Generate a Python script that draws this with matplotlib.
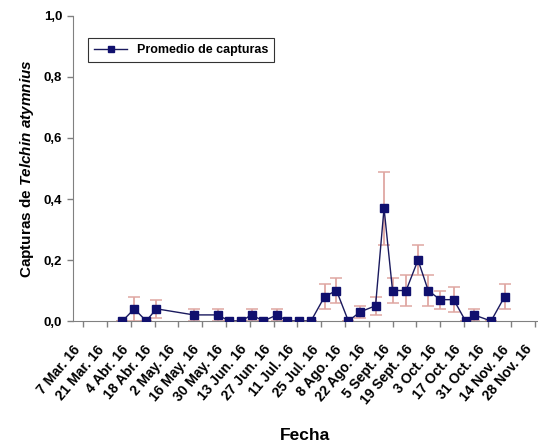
import matplotlib
matplotlib.use("Agg")
import matplotlib.pyplot as plt
import matplotlib.dates as mdates
from datetime import datetime

plt.rcParams['font.family'] = ['Liberation Sans', 'DejaVu Sans']
plt.rcParams['font.weight'] = 'bold'
plt.rcParams['mathtext.fontset'] = 'custom'
plt.rcParams['mathtext.it'] = 'Liberation Sans:italic:bold'
plt.rcParams['mathtext.rm'] = 'Liberation Sans:bold'

# sampling dates (2016) and mean captures with error bars
fechas = ["2016-03-30", "2016-04-06", "2016-04-13", "2016-04-19", "2016-05-11",
          "2016-05-25", "2016-06-01", "2016-06-08", "2016-06-14", "2016-06-21",
          "2016-06-29", "2016-07-05", "2016-07-12", "2016-07-19", "2016-07-27",
          "2016-08-03", "2016-08-10", "2016-08-17", "2016-08-26", "2016-08-31",
          "2016-09-05", "2016-09-13", "2016-09-20", "2016-09-26", "2016-10-03",
          "2016-10-11", "2016-10-18", "2016-10-23", "2016-11-02", "2016-11-10"]
promedio = [0.0, 0.04, 0.0, 0.04, 0.02,
            0.02, 0.0, 0.0, 0.02, 0.0,
            0.02, 0.0, 0.0, 0.0, 0.08,
            0.10, 0.0, 0.03, 0.05, 0.37,
            0.10, 0.10, 0.20, 0.10, 0.07,
            0.07, 0.0, 0.02, 0.0, 0.08]
error = [0.0, 0.04, 0.0, 0.03, 0.02,
         0.02, 0.0, 0.0, 0.02, 0.0,
         0.02, 0.0, 0.0, 0.0, 0.04,
         0.04, 0.0, 0.02, 0.03, 0.12,
         0.04, 0.05, 0.05, 0.05, 0.03,
         0.04, 0.0, 0.02, 0.0, 0.04]

tick_fechas = ["2016-03-07", "2016-03-21", "2016-04-04", "2016-04-18", "2016-05-02",
               "2016-05-16", "2016-05-30", "2016-06-13", "2016-06-27", "2016-07-11",
               "2016-07-25", "2016-08-08", "2016-08-22", "2016-09-05", "2016-09-19",
               "2016-10-03", "2016-10-17", "2016-10-31", "2016-11-14", "2016-11-28"]
tick_labels = ["7 Mar. 16", "21 Mar. 16", "4 Abr. 16", "18 Abr. 16", "2 May. 16",
               "16 May. 16", "30 May. 16", "13 Jun. 16", "27 Jun. 16", "11 Jul. 16",
               "25 Jul. 16", "8 Ago. 16", "22 Ago. 16", "5 Sept. 16", "19 Sept. 16",
               "3 Oct. 16", "17 Oct. 16", "31 Oct. 16", "14 Nov. 16", "28 Nov. 16"]
y_ticks = [0.0, 0.2, 0.4, 0.6, 0.8, 1.0]
y_labels = ["0,0", "0,2", "0,4", "0,6", "0,8", "1,0"]

x = [mdates.date2num(datetime.strptime(f, "%Y-%m-%d")) for f in fechas]
xt = [mdates.date2num(datetime.strptime(f, "%Y-%m-%d")) for f in tick_fechas]

fig = plt.figure(figsize=(5.38, 4.44), dpi=100)
ax = fig.add_axes([0.136, 0.277, 0.862, 0.687])

ax.errorbar(x, promedio, yerr=error, fmt='none', ecolor='#dfa7a2', elinewidth=1.3,
            capsize=4, capthick=1.1, zorder=2)
ax.plot(x, promedio, color='#1a1a5e', lw=1.0, marker='s', markersize=6,
        markerfacecolor='#10106e', markeredgecolor='#10106e',
        label='Promedio de capturas', zorder=3)

ax.set_xlim(mdates.date2num(datetime(2016, 3, 1)), mdates.date2num(datetime(2016, 11, 29)))
ax.set_ylim(0, 1.0)
ax.set_xticks(xt)
ax.set_xticklabels(tick_labels, rotation=50, ha='right', va='bottom',
                   rotation_mode='anchor', fontsize=10)
ax.set_yticks(y_ticks)
ax.set_yticklabels(y_labels, fontsize=9.5)

for s in ['top', 'right']:
    ax.spines[s].set_visible(False)
for s in ['left', 'bottom']:
    ax.spines[s].set_color('#808080')
ax.tick_params(axis='both', direction='out', color='#808080', length=4, width=1)
ax.tick_params(axis='x', pad=18)
ax.tick_params(axis='y', pad=4)

ax.set_xlabel('Fecha', fontsize=12.5, fontweight='bold')
ax.xaxis.set_label_coords(0.5, -0.35)
ax.set_ylabel(r'Capturas de $\mathit{Telchin\ atymnius}$', fontsize=11,
              fontweight='bold')
ax.yaxis.set_label_coords(-0.08, 0.5)

leg = ax.legend(loc='upper left', bbox_to_anchor=(0.032, 0.928), borderaxespad=0,
                fontsize=9, frameon=True, fancybox=False, edgecolor='black',
                borderpad=0.5, handlelength=2.6, handletextpad=0.8, markerscale=0.7)
leg.get_frame().set_linewidth(0.8)

fig.savefig('out.png', dpi=100)
